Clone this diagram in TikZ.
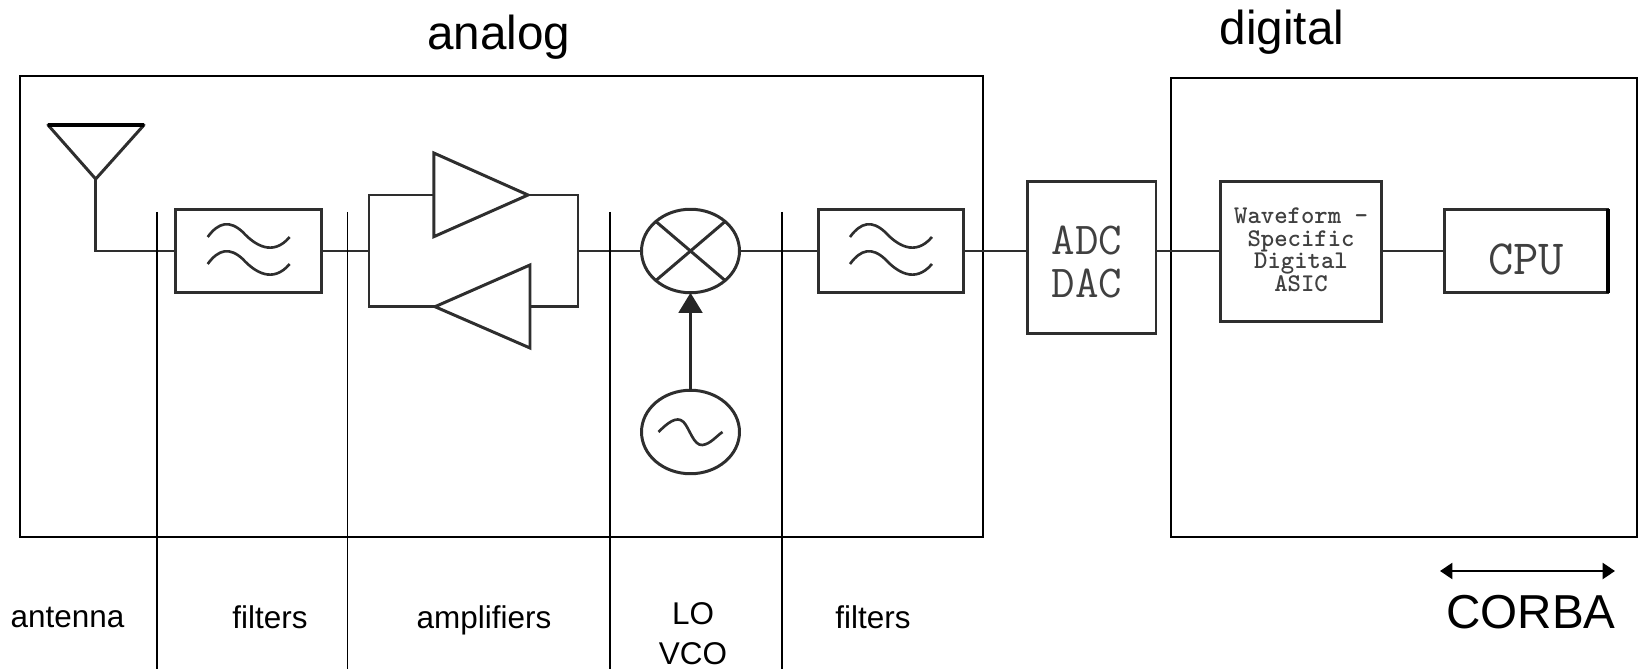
\documentclass[tikz,border=0pt]{standalone}
\usepackage{fontspec}
\setmainfont{Liberation Sans}
\usetikzlibrary{arrows.meta,shapes.geometric}
\begin{document}
\begin{tikzpicture}[x=0.02cm,y=-0.02cm,line join=miter,
		wire/.style={draw=black!82,line width=1.7pt},
		block/.style={wire,rectangle,inner sep=0pt,outer sep=0pt},
		blocktext/.style={inner sep=0pt,align=center,text=black!75},
		round/.style={wire,ellipse,inner sep=0pt,outer sep=0pt,minimum width=1.96cm,minimum height=1.67cm},
		frame/.style={draw=black,line width=1.1pt},
		small/.style={font=\fontsize{17.9}{22.7}\selectfont,inner sep=0pt,align=center},
		big/.style={font=\fontsize{27.1}{32}\selectfont,inner sep=0pt}]
	\useasboundingbox (0,0) rectangle (1641,669);
	% outer frames
	\node[frame,rectangle,inner sep=0pt,minimum width=19.27cm,minimum height=9.22cm] (analogbox) at (501.5,306.5) {};
	\node[frame,rectangle,inner sep=0pt,minimum width=9.32cm,minimum height=9.18cm] (digitalbox) at (1404,307.5) {};
	% blocks
	\node[block,minimum width=2.91cm,minimum height=1.67cm] (filterA) at (248.7,251) {};
	\node[block,minimum width=2.92cm,minimum height=1.67cm] (filterB) at (891,251) {};
	\node[round] (mixer) at (690.5,251) {};
	\node[round] (osc) at (690.5,432) {};
	\node[block,minimum width=2.58cm,minimum height=3.06cm] (adc) at (1091.5,257.5) {};
	\node[block,minimum width=3.23cm,minimum height=2.79cm] (asic) at (1301,251.5) {};
	\node[block,minimum width=3.28cm,minimum height=1.67cm] (cpu) at (1526,251) {};
	\draw[black,line width=2.6pt] (cpu.north east)--(cpu.south east);
	% block texts
	\node[blocktext,font=\ttfamily\fontsize{26}{25}\selectfont] (adctext) at (1087,262) {ADC\\DAC};
	\node[blocktext,font=\ttfamily\bfseries\fontsize{14.5}{12.8}\selectfont] (asictext) at (1301,250) {Waveform -\\Specific\\Digital\\ASIC};
	\node[blocktext,font=\ttfamily\fontsize{28}{30}\selectfont] (cputext) at (1526,259) {CPU};
	% antenna
	\coordinate (antL) at (48,125);
	\coordinate (antR) at (144,125);
	\coordinate (antB) at (95.7,179);
	\coordinate (antC) at (95.7,251);
	\draw[wire,line join=round] (antL)--(antR)--(antB)--cycle;
	\draw[black,line width=2.2pt] (antL)--(antR);
	\draw[wire] (antB)--(antC)--(filterA.west);
	% amplifiers
	\coordinate (loopL) at (369,251);
	\coordinate (loopR) at (578,251);
	\coordinate (ampUa) at (433.8,153);
	\coordinate (ampUb) at (433.8,195);
	\coordinate (ampUc) at (433.8,236.7);
	\coordinate (ampUd) at (528,195);
	\coordinate (ampLa) at (530,265);
	\coordinate (ampLb) at (530,306.7);
	\coordinate (ampLc) at (530,348);
	\coordinate (ampLd) at (435,306.7);
	\draw[wire] (ampUa)--(ampUd)--(ampUc)--cycle;
	\draw[wire] (ampLa)--(ampLd)--(ampLc)--cycle;
	\draw[wire] (ampUb)-|(loopL)|-(ampLd);
	\draw[wire] (ampUd)-|(loopR)|-(ampLb);
	% connectors
	\draw[wire] (filterA.east)--(loopL);
	\draw[wire] (loopR)--(mixer.west);
	\draw[wire] (mixer.east)--(filterB.west);
	\draw[wire] (filterB.east)--(adc.west|-filterB.east);
	\draw[wire] (adc.east|-cpu.west)--(asic.west|-cpu.west);
	\draw[wire] (asic.east|-cpu.west)--(cpu.west);
	\draw[wire,draw=black!85,-{Triangle[width=13.4pt,length=11.4pt]}] (osc.north)--(mixer.south);
	\draw[wire] (mixer.north east)--(mixer.south west) (mixer.north west)--(mixer.south east);
	% wave signs
	\foreach \cx/\cy in {248.7/237,248.7/264,891/237,891/264}
	\draw[wire,line width=1.5pt,shift={(\cx,\cy)}]
		(-41,0) .. controls (-30,-15) and (-19,-17) .. (-6,-5) .. controls (6,8) and (24,20) .. (41,0);
	\draw[wire,line width=1.5pt,shift={(osc.center)}]
		(-32,0) .. controls (-24,-8) and (-14,-17) .. (-7,-10) .. controls (-1,-4) and (3,14) .. (12,13) .. controls (20,12) and (26,4) .. (32,0);
	% cut lines
	\foreach \i/\x in {1/157.4,2/347.5,3/610,4/782}{
		\coordinate (cutT\i) at (\x,212);
		\coordinate (cutB\i) at (\x,669);
		\draw[frame] (cutT\i)--(cutB\i);
	}
	% labels
	\node[big] (analog) at (499,37) {analog};
	\node[big] (digital) at (1282,32) {digital};
	\node[small] (antenna) at (67.5,617) {antenna};
	\node[small] (filtersA) at (270,617) {filters};
	\node[small] (amps) at (484,620) {amplifiers};
	\node[small] (lovco) at (693,634) {LO\\VCO};
	\node[small] (filtersB) at (873,617) {filters};
	\node[big] (corba) at (1531,612) {CORBA};
	\coordinate (corbaL) at (1440,571);
	\coordinate (corbaR) at (1615,571);
	\draw[black,line width=1.5pt,{Triangle[width=9pt,length=7pt]}-{Triangle[width=9pt,length=7pt]}] (corbaL)--(corbaR);
\end{tikzpicture}
\end{document}
